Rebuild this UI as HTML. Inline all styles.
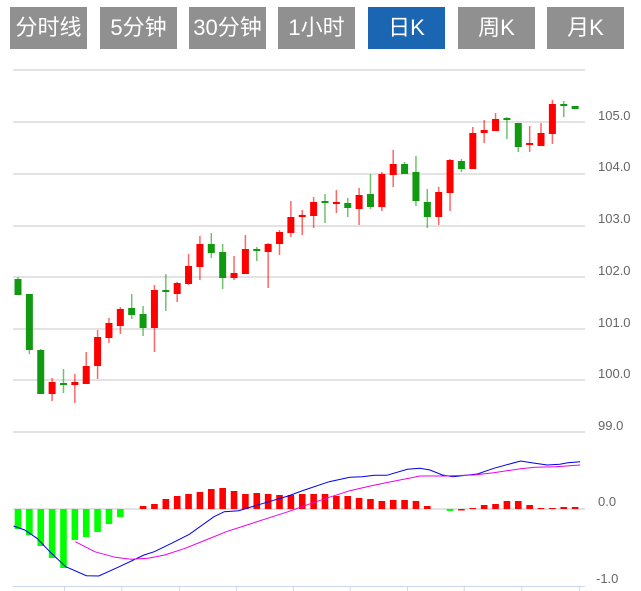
<!DOCTYPE html>
<html><head><meta charset="utf-8"><style>
body{margin:0;background:#fff;width:641px;height:591px;overflow:hidden;font-family:"Liberation Sans","Noto Sans CJK SC",sans-serif}
.b{position:absolute;top:7px;height:42px;width:77px;background:#909090;color:#fff;font-size:22px;line-height:42px;text-align:center;font-family:"Liberation Sans","Noto Sans CJK SC",sans-serif}
.a{background:#1a66b3}
svg{position:absolute;left:0;top:0}
</style></head><body>
<svg id="s" width="641" height="591" xmlns="http://www.w3.org/2000/svg">
<g stroke="#e3e3e3" stroke-width="2">
<line x1="13" x2="585" y1="70" y2="70"/>
<line x1="13" x2="585" y1="122" y2="122"/>
<line x1="13" x2="585" y1="174" y2="174"/>
<line x1="13" x2="585" y1="226" y2="226"/>
<line x1="13" x2="585" y1="277" y2="277"/>
<line x1="13" x2="585" y1="329" y2="329"/>
<line x1="13" x2="585" y1="380" y2="380"/>
<line x1="13" x2="585" y1="432" y2="432"/>
<line x1="13" x2="585" y1="509" y2="509"/>
</g>
<line x1="13" x2="585" y1="586.5" y2="586.5" stroke="#ccd6eb" stroke-width="1"/>
<g stroke="#ccd6eb" stroke-width="1" id="ticks"></g>
<g font-size="13" fill="#666" font-family="Liberation Sans,sans-serif">
<text x="598" y="120">105.0</text>
<text x="598" y="171">104.0</text>
<text x="598" y="223">103.0</text>
<text x="598" y="275">102.0</text>
<text x="598" y="327">101.0</text>
<text x="598" y="378">100.0</text>
<text x="598" y="430">99.0</text>
<text x="598" y="506">0.0</text>
<text x="596" y="583">-1.0</text>
</g>
<g id="c"></g>
</svg>
<div class="b" style="left:10px">分时线</div>
<div class="b" style="left:100px">5分钟</div>
<div class="b" style="left:189px">30分钟</div>
<div class="b" style="left:278px">1小时</div>
<div class="b a" style="left:368px">日K</div>
<div class="b" style="left:458px">周K</div>
<div class="b" style="left:547px">月K</div>
<script>
var R='#ff0000',G='#119911';
var C=[
['g',279,295,277,295],['g',294,350,294,354],['g',350,394,349,394],['r',382,394,378,401],['g',383,385,369,393],
['r',382,385,374,403],['r',366,384,352,384],['r',337,366,330,379],['r',323,338,318,343],['r',309,326,307,334],
['g',308,315,294,319],['g',314,328,306,336],['r',290,328,285,352],['g',290,292,274,311],['r',283,294,282,302],
['r',266,284,254,285],['r',244,267,236,280],['g',244,253,233,258],['g',252,278,244,289],['r',273,278,256,280],
['r',249,274,235,274],['g',249,251,247,261],['r',244,252,243,288],['r',232,244,230,255],['r',217,233,201,237],
['r',215,217,210,235],['r',202,216,197,228],['g',201,203,194,223],['r',202,204,190,213],['g',203,208,198,217],
['r',195,209,188,225],['g',194,207,174,209],['r',174,207,172,211],['r',164,175,150,187],['g',164,174,162,174],
['g',172,201,156,206],['g',202,217,189,228],['r',192,217,187,225],['r',160,193,159,211],['g',161,169,159,172],
['r',133,169,127,169],['r',130,133,120,143],['r',119,131,113,131],['g',118,120,117,139],['g',123,147,123,152],
['r',143,145,126,152],['r',133,146,123,146],['r',104,134,100,144],['g',104,106,101,117],['g',106,109,106,109]];
var h='';
for(var i=0;i<50;i++){var x=18+i*11.37,c=C[i],col=c[0]=='r'?R:G;
h+='<line x1="'+x+'" x2="'+x+'" y1="'+c[3]+'" y2="'+c[4]+'" stroke="'+col+'" stroke-opacity="0.6" stroke-width="1.5"/>';
var bh=Math.max(c[2]-c[1],2);h+='<rect x="'+(x-3.5)+'" y="'+c[1]+'" width="7" height="'+bh+'" fill="'+col+'"/>';}
var H={0:529,1:535,2:546,3:558,4:568,5:540,6:537,7:532,8:524,9:517,
11:506,12:504,13:499,14:496,15:494,16:492,17:489,18:488,19:491,20:494,21:493,22:494,23:495,24:495,25:494,26:494,27:494,28:496,29:496,30:498,31:499,32:501,33:500,34:500,35:501,36:506,
38:511,39:510.5,40:508,41:505,42:504,43:501,44:501,45:505,46:508,47:508,48:507,49:507};
for(var k in H){var i=+k,x=18+i*11.37,v=H[k],g=(i<10||i==38);
var y1=Math.min(v,509),y2=Math.max(v,509);
h+='<rect x="'+(x-3.3)+'" y="'+y1+'" width="6.6" height="'+(y2-y1)+'" fill="'+(g?'#00ff00':'#ff0000')+'"/>';}
function pl(a,col){var p=[];for(var j=0;j<a.length;j+=2)p.push((a[j]/2.43).toFixed(1)+','+(420+a[j+1]/3).toFixed(1));
return '<polyline fill="none" stroke="'+col+'" stroke-width="1" points="'+p.join(' ')+'"/>';}
h+=pl([33,318,60,330,90,355,125,400,160,440,210,467,240,468,290,440,350,405,375,395,420,368,460,343,520,290,545,275,580,272,640,250,700,228,740,210,800,185,850,172,880,170,910,166,940,166,990,148,1020,145,1045,150,1075,165,1100,170,1160,162,1200,145,1265,123,1300,130,1330,135,1360,133,1380,128,1410,125],'#0000ee');
h+=pl([183,365,230,395,280,412,320,418,360,415,400,405,450,385,500,360,550,335,600,315,650,295,700,275,750,253,800,232,850,212,900,198,950,185,1000,173,1020,168,1080,168,1150,165,1200,158,1265,146,1300,142,1350,140,1410,135],'#ee00ee');
document.getElementById('c').innerHTML=h;
var t='';[64.6,121.8,179.4,236.6,293.4,350.2,407.4,464.2,521.8,579.4].forEach(function(x){t+='<line x1="'+x+'" x2="'+x+'" y1="586" y2="591"/>';});
document.getElementById('ticks').innerHTML=t;
</script>
</body></html>
